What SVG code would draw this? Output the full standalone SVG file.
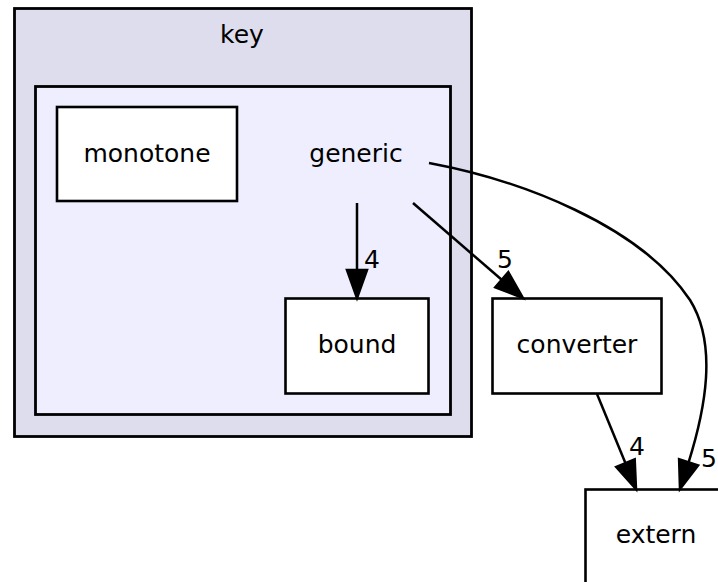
<svg xmlns="http://www.w3.org/2000/svg" width="718" height="582" viewBox="0 0 718 582">
<style>
text{font-family:"DejaVu Sans","Liberation Sans",sans-serif;font-size:25px;fill:#000;text-anchor:middle}
.node{fill:#fff;stroke:#000;stroke-width:2.6}
.edge{fill:none;stroke:#000;stroke-width:2.5}
.head{fill:#000;stroke:#000;stroke-width:2.5}
</style>
<rect width="718" height="582" fill="#fff"/>
<g id="cluster_key">
<rect x="14.5" y="8.5" width="457" height="428" fill="#ddddee" stroke="#000" stroke-width="2.8"/>
<text x="242" y="43">key</text>
</g>
<g id="cluster_generic">
<rect x="35.5" y="86.5" width="415" height="328" fill="#eeeeff" stroke="#000" stroke-width="2.8"/>
<text x="356" y="162">generic</text>
</g>
<g id="monotone">
<rect class="node" x="57" y="107" width="180" height="94"/>
<text x="147" y="162">monotone</text>
</g>
<g id="bound">
<rect class="node" x="285.5" y="298.5" width="143" height="95"/>
<text x="357" y="353">bound</text>
</g>
<g id="converter">
<rect class="node" x="492.5" y="298.5" width="169" height="95"/>
<text x="577" y="353">converter</text>
</g>
<g id="extern">
<rect class="node" x="585.5" y="489.5" width="142" height="96"/>
<text x="656" y="543">extern</text>
</g>
<g id="edges">
<path class="edge" d="M357,203 L357,270"/>
<polygon class="head" points="347,270 357,298 367,270"/>
<text x="372" y="268">4</text>
<path class="edge" d="M413,203 L502,280"/>
<polygon class="head" points="495.3,287.3 523,298 508.3,272.1"/>
<text x="505" y="268">5</text>
<path class="edge" d="M597,394 L625.4,463.1"/>
<polygon class="head" points="616.2,466.9 636,489 634.7,459.3"/>
<text x="637" y="455">4</text>
<path class="edge" d="M429,163 C520,180 640,225 690,300 C718,345 705,410 688.6,462.3"/>
<polygon class="head" points="679.1,459.2 680,489 698.1,465.4"/>
<text x="709" y="467">5</text>
</g>
</svg>
